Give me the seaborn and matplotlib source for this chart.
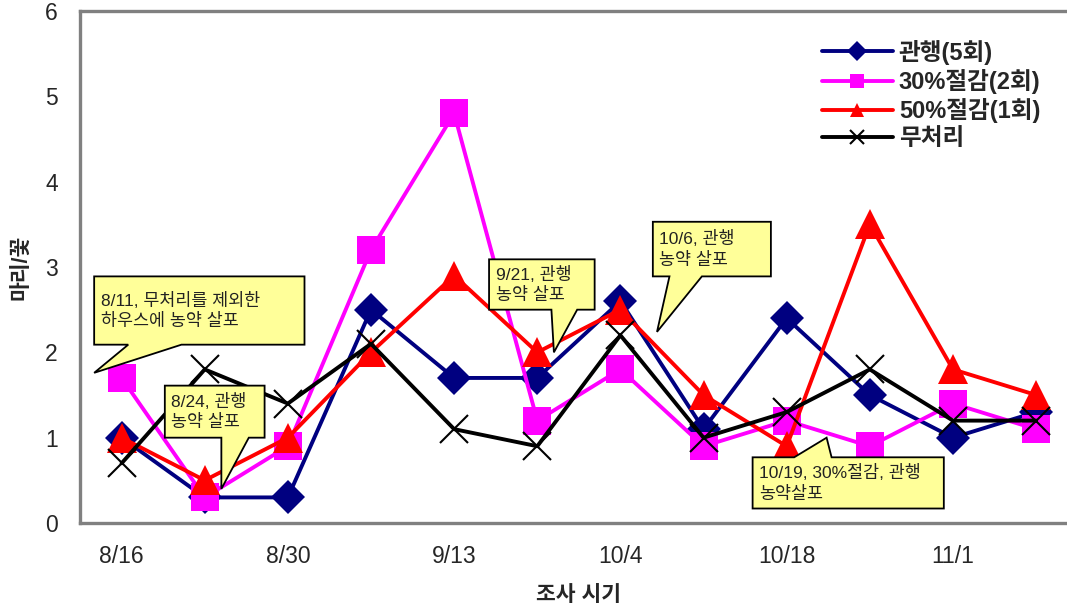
import numpy as np
import pandas as pd
import seaborn as sns
import matplotlib.pyplot as plt
from matplotlib.patches import Polygon

# survey dates (only every other one is labelled on the axis)
dates = ['8/16', '', '8/30', '', '9/13', '', '10/4', '', '10/18', '', '11/1', '']

conv = [1.0, 0.3, 0.3, 2.5, 1.7, 1.7, 2.6, 1.1, 2.4, 1.5, 1.0, 1.3]       # 관행(5회)
cut30 = [1.7, 0.3, 0.9, 3.2, 4.8, 1.2, 1.8, 0.9, 1.2, 0.9, 1.4, 1.1]      # 30%절감(2회)
cut50 = [1.0, 0.5, 1.0, 2.0, 2.9, 2.0, 2.5, 1.5, 0.9, 3.5, 1.8, 1.5]      # 50%절감(1회)
control = [0.7, 1.8, 1.4, 2.1, 1.1, 0.9, 2.2, 1.0, 1.3, 1.8, 1.2, 1.2]    # 무처리

series_names = ['관행(5회)', '30%절감(2회)', '50%절감(1회)', '무처리']
series_vals = [conv, cut30, cut50, control]
colors = ['#000080', '#FF00FF', '#FF0000', '#000000']
markers = ['D', 's', '^', 'x']
msizes = [17, 20, 21, 20]

sns.set_style('white')
plt.rcParams['font.family'] = ['Liberation Sans', 'Noto Sans CJK KR']

fig = plt.figure(figsize=(10.67, 6.11), dpi=100)
ax = fig.add_axes([0.075, 0.144, 0.935, 0.838])

x = np.arange(len(dates))
for name, vals, c, m, ms in zip(series_names, series_vals, colors, markers, msizes):
    df = pd.DataFrame({'x': x, 'y': vals})
    sns.lineplot(data=df, x='x', y='y', ax=ax, color=c, lw=2.8, marker=m,
                 markersize=ms, markeredgecolor=c, markeredgewidth=1.5 if m == 'x' else 0,
                 label=name, zorder=3)

ax.set_xlim(-0.5, len(dates) - 0.5)
ax.set_ylim(0, 6)
ax.set_yticks(range(0, 7))
ax.set_xticks(x[::2])
ax.set_xticklabels([d for d in dates[::2]], fontsize=16.5)
ax.set_xticks(np.arange(0.5, len(dates) - 1, 1), minor=True)
ax.tick_params(axis='x', which='major', length=0, pad=16)
ax.tick_params(axis='x', which='minor', direction='in', length=6, width=1.0, color='black')
ax.tick_params(axis='y', direction='in', length=8, width=1.0, color='black', labelsize=16.5, pad=16)

for sp in ax.spines.values():
    sp.set_color('#808080')
    sp.set_linewidth(2.4)

ax.set_xlabel('조사 시기', fontsize=15.5, fontweight='bold', labelpad=12)
ax.set_ylabel('마리/꽃', fontsize=15.5, fontweight='bold', labelpad=10)

leg = ax.legend(loc='upper right', bbox_to_anchor=(0.995, 0.97), bbox_transform=fig.transFigure,
                frameon=False, handlelength=3.0, handletextpad=0.25,
                labelspacing=0.18, prop={'weight': 'bold', 'size': 17})
for h in leg.legend_handles:
    h.set_markersize(10)


def callout(x0, x1, y0, y1, base, tip, text, top=False):
    b1, b2 = base
    if top:
        pts = [(x0, y0), (x1, y0), (x1, y1), (b2, y1), tip, (b1, y1), (x0, y1)]
    else:
        pts = [(x0, y1), (x1, y1), (x1, y0), (b2, y0), tip, (b1, y0), (x0, y0)]
    ax.add_patch(Polygon(pts, closed=True, facecolor='#FFFF99', edgecolor='black',
                         lw=1.3, zorder=5))
    ax.text(x0 + 0.08, (y0 + y1) / 2, text, ha='left', va='center', fontsize=12.5,
            color='#222222', linespacing=1.35, zorder=6)


callout(-0.33, 2.2, 2.09, 2.89, (0.08, 0.72), (-0.33, 1.76), '8/11, 무처리를 제외한\n하우스에 농약 살포')
callout(0.52, 1.72, 1.0, 1.61, (1.2, 1.53), (1.2, 0.4), '8/24, 관행\n농약 살포')
callout(4.42, 5.69, 2.5, 3.09, (5.17, 5.48), (5.2, 2.0), '9/21, 관행\n농약 살포')
callout(6.39, 7.81, 2.89, 3.53, (6.59, 6.98), (6.44, 2.24), '10/6, 관행\n농약 살포')
callout(7.59, 9.89, 0.17, 0.77, (8.09, 8.54), (8.48, 1.0), '10/19, 30%절감, 관행\n농약살포', top=True)

fig.savefig('out.png', dpi=100)
